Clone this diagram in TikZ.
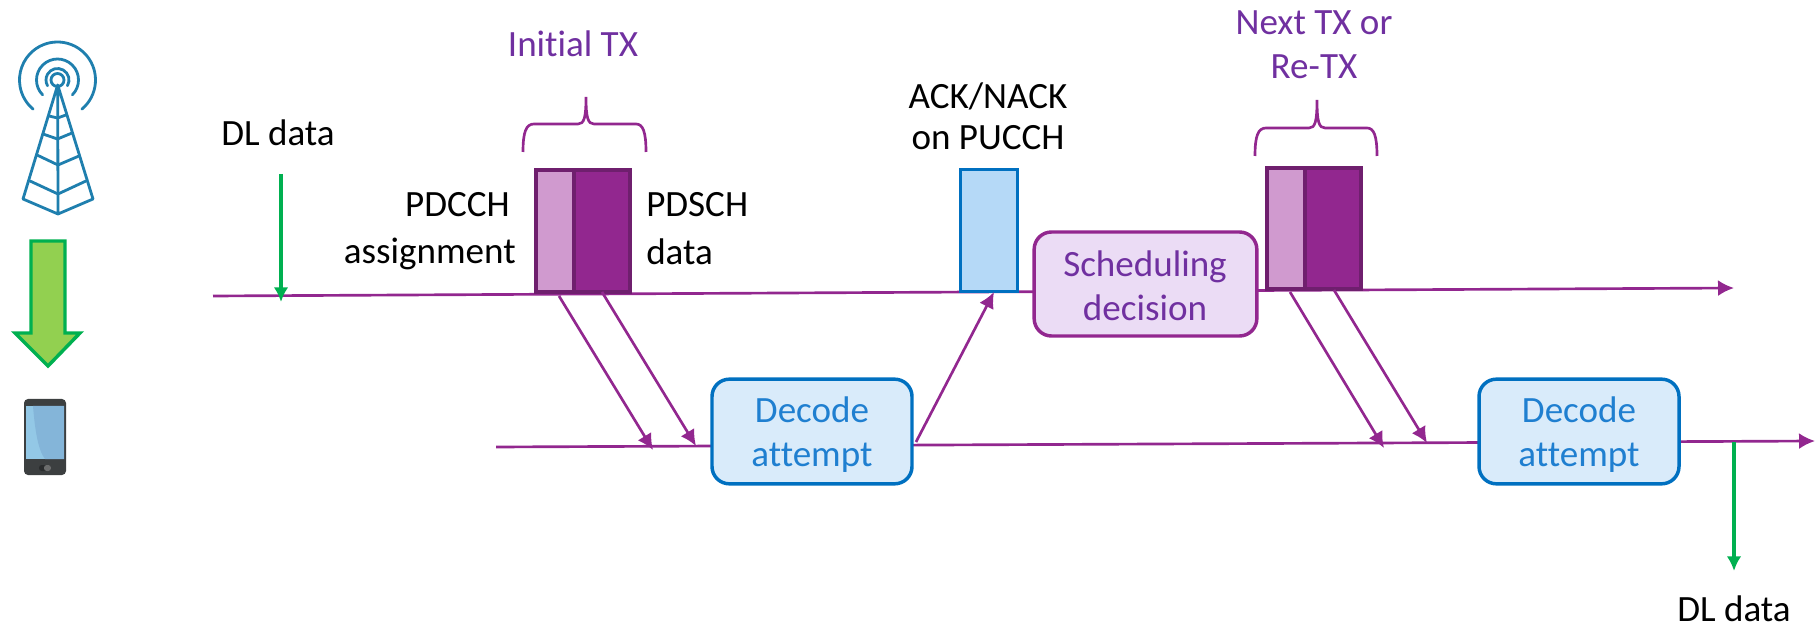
\documentclass[tikz,border=0pt]{standalone}
\usepackage{fontspec}
\setmainfont[Ligatures=NoCommon]{Carlito}
\usetikzlibrary{arrows.meta}
\definecolor{pline}{HTML}{92278F}
\definecolor{pdark}{HTML}{6F1F6E}
\definecolor{plight}{HTML}{D09ACF}
\definecolor{ptext}{HTML}{7030A0}
\definecolor{pbox}{HTML}{EBDCF5}
\definecolor{bline}{HTML}{0070C0}
\definecolor{bbox}{HTML}{D9EBFA}
\definecolor{backfill}{HTML}{B5D9F7}
\definecolor{btext}{HTML}{1F7FD0}
\definecolor{tower}{HTML}{1F7FAE}
\definecolor{ggreen}{HTML}{00B050}
\definecolor{gfill}{HTML}{92D050}
\definecolor{phonec}{HTML}{3C3F40}
\definecolor{screena}{HTML}{93C8E6}
\definecolor{screenb}{HTML}{84B5D9}
\tikzset{
  x=0.75pt,y=-0.75pt,
  lab/.style={font=\fontsize{27.8}{27.8}\selectfont,inner sep=0pt,text=black},
  plab/.style={lab,text=ptext},
  blab/.style={lab,text=btext},
  tl/.style={draw=pline,line width=2pt},
  arr/.style={tl,-{Latex[length=12pt,width=12pt]}},
  garr/.style={draw=ggreen,line width=2.8pt,-{Latex[length=11pt,width=11pt]}},
  brace/.style={draw=pline,line width=2pt},
  blockl/.style={draw=pdark,line width=2.8pt,fill=plight},
  blockd/.style={draw=pdark,line width=2.8pt,fill=pline},
  ackbox/.style={draw=bline,line width=2.6pt,fill=backfill,anchor=north west,inner sep=0pt,minimum width=42.5pt,minimum height=91.5pt},
  decode/.style={draw=bline,line width=2.6pt,fill=bbox,rounded corners=13pt,minimum width=150pt,minimum height=78.5pt,inner sep=0pt},
  sched/.style={draw=pline,line width=2.6pt,fill=pbox,rounded corners=13pt,minimum width=167pt,minimum height=78pt,inner sep=0pt},
  tw/.style={draw=tower,line width=2.1pt,line cap=round,line join=round},
}
\begin{document}
\begin{tikzpicture}
\useasboundingbox (0,0) rectangle (1819,630);
% tower
\coordinate (ring) at (57.5,80);
\draw[tw] (ring) circle[radius=6.5];
\draw[tw] (ring) ++(30:11.5) arc[start angle=30,end angle=-210,radius=11.5];
\draw[tw] (ring) ++(45:21) arc[start angle=45,end angle=-225,radius=21];
\draw[tw] (ring) ++(50:38) arc[start angle=50,end angle=-230,radius=38];
\draw[tw] (57.7,85) -- (23,199) -- (58,214) -- (93,199) -- cycle (57.7,85) -- (58,214);
\draw[tw] (49,116) -- (57.5,118) -- (66,115);
\draw[tw] (43,134) -- (57.5,139) -- (72,133);
\draw[tw] (37,155) -- (58,165) -- (79,156);
\draw[tw] (30,181) -- (58,194) -- (86,181);
% big arrow
\draw[draw=ggreen,line width=2.6pt,fill=gfill,line join=miter] (31,241) -- (65,241) -- (65,333) -- (80,333) -- (48,366) -- (15,333) -- (31,333) -- cycle;
% phone
\fill[phonec,rounded corners=3pt] (24,399) rectangle (66,475);
\fill[screena] (26,406) rectangle (64,459);
\fill[screenb] (33,406) .. controls (35,430) and (38,450) .. (45,459) -- (64,459) -- (64,406) -- cycle;
\fill[black!30!phonec,rounded corners=2pt] (39,465) rectangle (51,471);
\fill[gray!70!phonec,rounded corners=2pt] (44,465) rectangle (51,471);
% timelines
\coordinate (topL) at (213,296);
\coordinate (topR) at (1734,288);
\coordinate (lowL) at (496,447);
\coordinate (lowR) at (1815,441);
\draw[arr] (topL) -- (topR);
\draw[arr] (lowL) -- (lowR);
% blocks
\draw[blockl] (536,170) rectangle (574,292);
\draw[blockd] (574,170) rectangle (630,292);
\draw[blockl] (1267,168) rectangle (1305,289);
\draw[blockd] (1305,168) rectangle (1361,289);
\coordinate (a1s) at (559,296);
\coordinate (a1e) at (653,450);
\coordinate (a2s) at (602,292);
\coordinate (a2e) at (696,446);
\coordinate (a3s) at (1290,292);
\coordinate (a3e) at (1384,448);
\coordinate (a4s) at (1334,290);
\coordinate (a4e) at (1427,443);
\draw[arr] (a1s) -- (a1e);
\draw[arr] (a2s) -- (a2e);
\draw[arr] (a3s) -- (a3e);
\draw[arr] (a4s) -- (a4e);
% boxes
\node[ackbox] (ack) at (959,168) {};
\node[sched] (sch) at (1145.5,284) {};
\node[decode] (d1) at (812,431.5) {};
\node[decode] (d2) at (1579,431.5) {};
\coordinate (ua) at (916,442);
\coordinate (ub) at (994,292);
\draw[arr] (ua) -- (ub);
% braces
\draw[brace] (523,152) .. controls (523,132) and (526,124) .. (534,124) -- (578,124) .. controls (584,124) and (586,118) .. (586,97) .. controls (586,118) and (588,124) .. (594,124) -- (636,124) .. controls (643,124) and (646,132) .. (646,152);
\draw[brace] (1255,156) .. controls (1255,136) and (1258,128) .. (1266,128) -- (1309,128) .. controls (1315,128) and (1317,122) .. (1317,100) .. controls (1317,122) and (1319,128) .. (1325,128) -- (1367,128) .. controls (1374,128) and (1377,136) .. (1377,156);
% green arrows
\coordinate (g1s) at (281,174);
\coordinate (g1e) at (281,302);
\coordinate (g2s) at (1734,442);
\coordinate (g2e) at (1734,571);
\draw[garr] (g1s) -- (g1e);
\draw[garr] (g2s) -- (g2e);
% labels
\node[lab] (dl1) at (278,133) {DL data};
\node[plab] (itx) at (573,44) {Initial TX};
\node[lab] (ack1) at (988,96) {ACK/NACK};
\node[lab] (ack2) at (988,138) {on PUCCH};
\node[lab,anchor=east] (pc1) at (510,205) {PDCCH};
\node[lab,anchor=east] (pc2) at (516,254) {assignment};
\node[lab,anchor=west] (ps1) at (646,205) {PDSCH};
\node[lab,anchor=west] (ps2) at (646,252) {data};
\node[plab] (ntx1) at (1314,23) {Next TX or};
\node[plab] (ntx2) at (1314,67) {Re-TX};
\node[plab] (s1) at (1145,267) {Scheduling};
\node[plab] (s2) at (1145,308) {decision};
\node[blab] (d1a) at (812,410) {Decode};
\node[blab] (d1b) at (812,458) {attempt};
\node[blab] (d2a) at (1579,410) {Decode};
\node[blab] (d2b) at (1579,458) {attempt};
\node[lab] (dl2) at (1734,609) {DL data};
\end{tikzpicture}
\end{document}
